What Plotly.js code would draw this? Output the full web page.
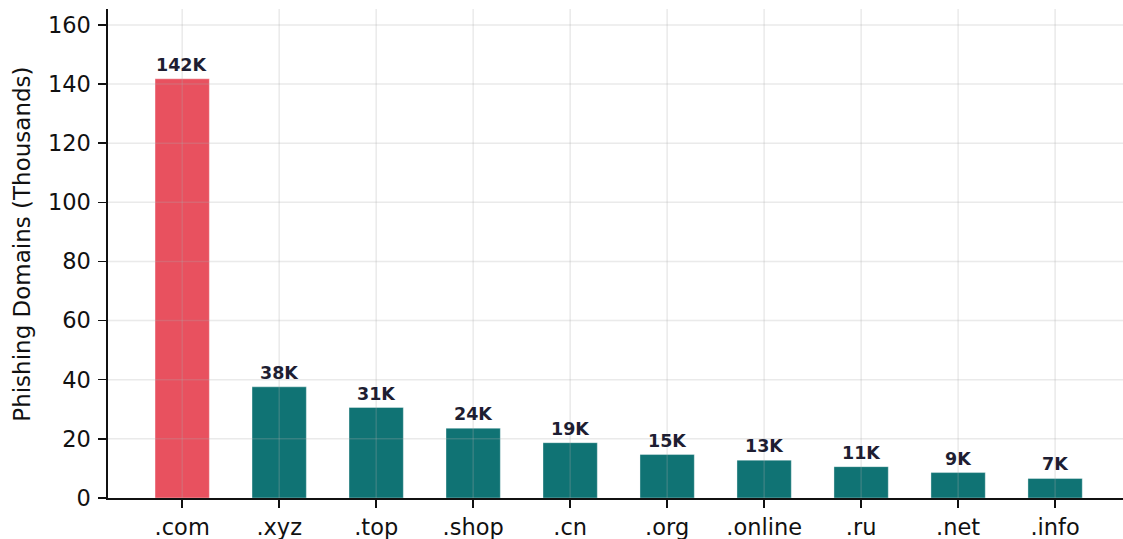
<!DOCTYPE html>
<html>
<head>
<meta charset="utf-8">
<script src="https://cdn.plot.ly/plotly-3.0.1.min.js"></script>
<style>html,body{margin:0;padding:0;background:#fff;}#chart{width:1123px;height:539px;}</style>
</head>
<body>
<div id="chart"></div>
<script>
const categories = ['.com', '.xyz', '.top', '.shop', '.cn', '.org', '.online', '.ru', '.net', '.info'];
const values = [141.8, 37.6, 30.6, 23.6, 18.7, 14.7, 12.8, 10.6, 8.6, 6.6];
const valueLabels = ['142K', '38K', '31K', '24K', '19K', '15K', '13K', '11K', '9K', '7K'];
const yTitle = 'Phishing Domains (Thousands)';
const highlightColor = 'rgb(232,81,95)';
const baseColor = 'rgb(16,115,116)';
const yTicks = [0, 20, 40, 60, 80, 100, 120, 140, 160];
const yMax = 165.4;

const colors = values.map((v, i) => i === 0 ? highlightColor : baseColor);
const xIdx = categories.map((c, i) => i);

const trace = {
  type: 'bar',
  x: xIdx,
  y: values,
  width: 0.56,
  marker: { color: colors, line: { color: 'rgba(255,255,255,0.45)', width: 0.8 } },
  hoverinfo: 'none'
};

const annotations = values.map((v, i) => ({
  x: i, y: v, xref: 'x', yref: 'y',
  text: valueLabels[i], showarrow: false,
  yanchor: 'bottom', yshift: 2,
  font: { family: 'DejaVu Sans', size: 17.5, color: '#1e1e32', weight: 'bold' }
}));
annotations.push({
  xref: 'paper', yref: 'paper', x: -0.0847, y: 0.518,
  xanchor: 'center', yanchor: 'middle', textangle: -90,
  text: yTitle, showarrow: false,
  font: { family: 'DejaVu Sans', size: 23, color: '#111' }
});

const gridColor = 'rgba(170,170,170,0.25)';
const shapes = [];
xIdx.forEach(i => shapes.push({
  type: 'line', layer: 'above', xref: 'x', yref: 'paper',
  x0: i, x1: i, y0: 0, y1: 1, line: { color: gridColor, width: 1.5 }
}));
yTicks.forEach(t => { if (t > 0) shapes.push({
  type: 'line', layer: 'above', xref: 'paper', yref: 'y',
  x0: 0, x1: 1, y0: t, y1: t, line: { color: gridColor, width: 1.5 }
}); });

const layout = {
  width: 1123, height: 539,
  margin: { l: 108, r: 0, t: 9, b: 40.5 },
  paper_bgcolor: '#fff', plot_bgcolor: '#fff',
  font: { family: 'DejaVu Sans', size: 22, color: '#111' },
  showlegend: false,
  bargap: 0,
  xaxis: {
    range: [-0.765, 9.70],
    tickmode: 'array', tickvals: xIdx, ticktext: categories,
    showgrid: false,
    showline: true, linecolor: '#111', linewidth: 1.6,
    ticks: 'outside', ticklen: 8, tickwidth: 1.5, tickcolor: '#111',
    tickfont: { family: 'DejaVu Sans', size: 22.5, color: '#111' },
    zeroline: false, fixedrange: true
  },
  yaxis: {
    range: [0, yMax],
    tickmode: 'array', tickvals: yTicks,
    showgrid: false,
    showline: true, linecolor: '#111', linewidth: 1.6,
    ticks: 'outside', ticklen: 8, tickwidth: 1.5, tickcolor: '#111',
    ticklabelstandoff: 3,
    tickfont: { family: 'DejaVu Sans', size: 22.5, color: '#111' },
    zeroline: false, fixedrange: true
  },
  shapes: shapes,
  annotations: annotations
};

Plotly.newPlot('chart', [trace], layout, { displayModeBar: false, staticPlot: true });
</script>
</body>
</html>
